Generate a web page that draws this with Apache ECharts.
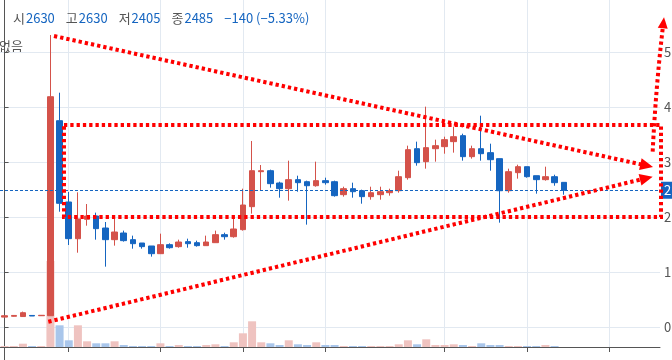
<!DOCTYPE html>
<html><head><meta charset="utf-8">
<script src="https://cdn.jsdelivr.net/npm/echarts/dist/echarts.min.js"></script>
<style>html,body{margin:0;padding:0;background:#fff;overflow:hidden}#c{width:672px;height:360px}</style>
</head><body><div id="c"></div>
<script>
// ---- data ----
const opens  = [180,195,190,210,205,205,3751,2273,1605,1958,2018,1800,1588,1709,1588,1527,1473,1333,1497,1461,1552,1533,1479,1533,1679,1642,1770,2188,2824,2842,2618,2515,2679,2642,2569,2661,2642,2406,2515,2478,2370,2406,2442,2478,2715,3242,3006,3242,3279,3370,3479,3097,3242,3170,3061,2478,2806,2915,2751,2679,2733,2630];
const closes = [205,210,260,200,213,4187,2249,1606,1964,2018,1788,1588,1727,1570,1515,1461,1333,1497,1442,1545,1515,1479,1545,1679,1642,1782,2218,2842,2842,2606,2515,2679,2624,2569,2661,2624,2388,2515,2460,2370,2442,2460,2478,2733,3224,2988,3261,3297,3406,3460,3097,3242,3151,3042,2478,2824,2915,2733,2679,2733,2624,2485];
const lows   = [175,190,185,200,203,200,2096,1491,1351,1842,1588,1097,1479,1552,1424,1424,1279,1333,1424,1442,1442,1461,1479,1533,1588,1624,1752,2061,2478,2533,2351,2297,2460,1861,2551,2588,2370,2370,2351,2242,2315,2315,2388,2442,2679,2933,2879,3006,3151,3170,3024,3061,3024,2842,1897,2442,2697,2715,2424,2661,2569,2405];
const highs  = [210,215,280,212,215,5309,4260,2455,2449,2236,2079,1909,2036,1752,1661,1527,1473,1697,1521,1588,1606,1570,1661,1752,1715,1970,2515,3382,2945,2861,2642,3024,2751,2661,3006,2715,2661,2551,2624,2497,2551,2551,2515,2842,3297,3370,4006,3406,3460,3642,3515,3297,3842,3333,3061,2879,2951,2915,2751,2915,2769,2630];
const volumes = [1,1,3.3,1,1,86,21.7,6.7,21.7,5.7,3.7,3.7,5.7,2,1,1,1,3.7,1,2,1,1,2,2.7,1,4.7,13.7,25.7,4.7,3.7,2,6.7,2.7,2,4.7,2,2,1,1,1,1,1,1,2.7,6.7,2.7,7.7,2,2,2.7,2,1,3.7,2,2,1,1,1,1,2,1,0];
const slotCount = 72; // 62 sessions + empty space on the right
const categories = Array.from({length: slotCount}, (_, i) => 'S' + i);
const tickLabels = {7: '10', 17: '9월', 26: '10', 35: '20', 48: '4월', 57: '10', 66: '20'};
const priceTicks = [0, 1000, 2000, 3000, 4000, 5000];
const lastPrice = 2485;
const header = {open: 2630, high: 2630, low: 2405, close: 2485, change: -140, pct: -5.33};
const sideNote = '없음';
// drawn annotations, in data space [slot index, price]
const trendTop = [[5.39, 5291], [70.74, 2909]];
const trendBottom = [[4.77, 96], [70.70, 2733]];
const rangeBox = [[6.48, 3673], [71.61, 2000]];
const breakoutCurve = [[70.70, 3187], [71.05, 4382], [71.94, 5631]];

// ---- styles ----
const RED = '#d4524a', BLUE = '#1565c0', RED_V = '#efc3c0', BLUE_V = '#a9c6eb';
const GRID_C = '#e2e9f1', AXIS_C = '#555', ANN = '#ff0000';
const FONT = '"Noto Sans CJK KR", "Noto Sans", sans-serif';
const fmt = v => v.toLocaleString('en-US');
const signed = v => (v < 0 ? '\u2212' + Math.abs(v) : '+' + v);

function renderAnnotations(params, api) {
  const P = p => api.coord(p);
  const dot = () => ({stroke: ANN, fill: null, lineWidth: 4, lineDash: [3.3, 3]});
  const kids = [];
  function head(from, tip, len, half) {
    const dx = tip[0] - from[0], dy = tip[1] - from[1];
    const d = Math.hypot(dx, dy), ux = dx / d, uy = dy / d;
    const bx = tip[0] - ux * len, by = tip[1] - uy * len;
    kids.push({type: 'polygon', shape: {points: [tip, [bx - uy * half, by + ux * half], [bx + uy * half, by - ux * half]]}, style: {fill: ANN}});
  }
  [trendTop, trendBottom].forEach(seg => {
    const a = P(seg[0]), b = P(seg[1]);
    const dx = b[0] - a[0], dy = b[1] - a[1], d = Math.hypot(dx, dy);
    const e = [b[0] - dx / d * 7, b[1] - dy / d * 7];
    kids.push({type: 'line', shape: {x1: a[0], y1: a[1], x2: e[0], y2: e[1]}, style: dot()});
    head(a, b, 13, 6);
  });
  const r0 = P(rangeBox[0]), r1 = P(rangeBox[1]);
  kids.push({type: 'rect', shape: {x: r0[0], y: r0[1], width: r1[0] - r0[0], height: r1[1] - r0[1]}, style: dot()});
  const c0 = P(breakoutCurve[0]), cc = P(breakoutCurve[1]), c1 = P(breakoutCurve[2]);
  const dx = c1[0] - cc[0], dy = c1[1] - cc[1], d = Math.hypot(dx, dy);
  const ce = [c1[0] - dx / d * 6, c1[1] - dy / d * 6];
  kids.push({type: 'bezierCurve', shape: {x1: c0[0], y1: c0[1], x2: ce[0], y2: ce[1], cpx1: cc[0], cpy1: cc[1]}, style: dot()});
  head(cc, c1, 11, 5);
  return {type: 'group', children: kids};
}

const isTick = i => tickLabels[i] !== undefined;
const chart = echarts.init(document.getElementById('c'), null, {renderer: 'canvas'});
const lab = {color: '#555', fontSize: 13, fontFamily: FONT, fontWeight: 'normal'};
const val = {color: BLUE, fontSize: 13, fontFamily: FONT, fontWeight: 'normal', padding: [0, 11, 0, 1]};
chart.setOption({
  animation: false,
  backgroundColor: '#fff',
  textStyle: {fontFamily: FONT},
  title: [
    {left: 13, top: 12, padding: 0,
     text: '{l|시}{v|' + header.open + '}{l|고}{v|' + header.high + '}{l|저}{v|' + header.low + '}{l|종}{v|' + header.close + '}{c|' + signed(header.change) + ' (' + signed(header.pct.toFixed(2)) + '%)}',
     textStyle: {rich: {l: lab, v: val, c: {color: BLUE, fontSize: 13, fontFamily: FONT, fontWeight: 'normal'}}}}
  ],
  graphic: [
    {type: 'text', x: 23, y: 46, silent: true,
     style: {text: sideNote, fill: '#555', fontSize: 13, fontFamily: FONT, fontWeight: 'normal', align: 'right', verticalAlign: 'middle'}}
  ],
  grid: [
    {left: 0, right: 12, top: -3, bottom: -22, outerBoundsMode: 'none', containLabel: false},
    {left: 0, right: 12, top: 0, bottom: 13, outerBoundsMode: 'none', containLabel: false}
  ],
  xAxis: [
    {type: 'category', gridIndex: 0, data: categories, show: false, boundaryGap: true},
    {type: 'category', gridIndex: 1, data: categories, boundaryGap: true, position: 'bottom',
     axisLine: {show: true, lineStyle: {color: AXIS_C, width: 1}},
     axisTick: {show: true, alignWithLabel: true, interval: i => isTick(i), length: 5, lineStyle: {color: AXIS_C}},
     axisLabel: {show: true, interval: i => isTick(i), formatter: (v, i) => tickLabels[i] || '', margin: 13, color: '#555', fontSize: 13, fontFamily: FONT},
     splitLine: {show: true, alignWithLabel: true, interval: i => isTick(i), lineStyle: {color: GRID_C, width: 1}}},
    {type: 'value', gridIndex: 0, min: -0.5, max: slotCount - 0.5, show: false}
  ],
  yAxis: [
    {type: 'value', gridIndex: 0, position: 'right', min: -1000, max: 6000, interval: 1000,
     axisLine: {show: true, lineStyle: {color: AXIS_C, width: 1}},
     axisTick: {show: true, length: 4, lineStyle: {color: AXIS_C}},
     axisLabel: {show: true, margin: 4, color: '#555', fontSize: 13, fontFamily: FONT,
                 formatter: v => priceTicks.indexOf(v) >= 0 ? fmt(v) : ''},
     splitLine: {show: true, lineStyle: {color: GRID_C, width: 1}}},
    {type: 'value', gridIndex: 1, min: 0, max: 347, show: false}
  ],
  series: [
    {type: 'bar', xAxisIndex: 1, yAxisIndex: 1, barWidth: 8, silent: true,
     data: volumes.map((v, i) => ({value: v, itemStyle: {color: closes[i] >= opens[i] ? RED_V : BLUE_V}}))},
    {type: 'candlestick', xAxisIndex: 0, yAxisIndex: 0, barWidth: 6, silent: true,
     data: opens.map((o, i) => [o, closes[i], lows[i], highs[i]]),
     itemStyle: {color: RED, color0: BLUE, borderColor: RED, borderColor0: BLUE, borderWidth: 1},
     markLine: {silent: true, symbol: ['none', 'none'], animation: false,
       data: [{yAxis: lastPrice}],
       lineStyle: {color: BLUE, type: [3, 2], width: 1.2},
       label: {show: true, position: 'end', distance: 1, formatter: () => fmt(lastPrice), color: '#fff',
               backgroundColor: BLUE, padding: [2, 4, 2, 3], fontSize: 13, fontFamily: FONT}}},
    {type: 'custom', xAxisIndex: 2, yAxisIndex: 0, data: [[0, 0]], silent: true, clip: false, z: 10,
     renderItem: renderAnnotations}
  ]
});
</script></body></html>
